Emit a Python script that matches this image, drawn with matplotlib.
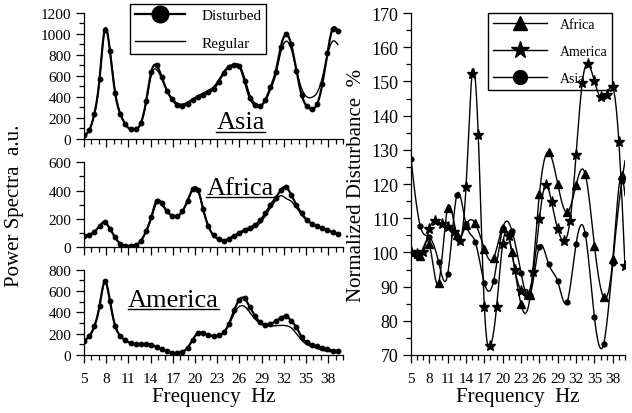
import numpy as np
import matplotlib
matplotlib.use('Agg')
import matplotlib.pyplot as plt
from matplotlib.lines import Line2D
from matplotlib.ticker import MultipleLocator, FixedLocator

# ---- left panel: power spectra (sampled every 0.7 Hz) ----
freq = [5.0, 5.7, 6.4, 7.1, 7.8, 8.5, 9.2, 9.9, 10.6, 11.3,
        12.0, 12.7, 13.4, 14.1, 14.8, 15.5, 16.2, 16.9, 17.6, 18.3,
        19.0, 19.7, 20.4, 21.1, 21.8, 22.5, 23.2, 23.9, 24.6, 25.3,
        26.0, 26.7, 27.4, 28.1, 28.8, 29.5, 30.2, 30.9, 31.6, 32.3,
        33.0, 33.7, 34.4, 35.1, 35.8, 36.5, 37.2, 37.9, 38.6, 39.3]

asia_dist = [32, 80, 238, 570, 1040, 840, 440, 238, 137, 89,
             89, 152, 360, 640, 700, 590, 460, 375, 320, 308,
             335, 368, 395, 420, 443, 475, 545, 630, 680, 705,
             690, 550, 390, 320, 310, 370, 490, 640, 880, 995,
             900, 650, 420, 310, 285, 330, 520, 820, 1050, 1030]
asia_reg = [30, 80, 235, 565, 1040, 840, 445, 240, 138, 92,
            92, 150, 345, 610, 660, 575, 465, 385, 340, 330,
            350, 380, 410, 435, 460, 495, 560, 640, 695, 710,
            700, 580, 420, 340, 320, 360, 470, 610, 830, 930,
            860, 660, 480, 400, 395, 440, 580, 800, 930, 900]

africa_dist = [82, 88, 110, 150, 178, 130, 70, 25, 12, 11,
               16, 47, 115, 215, 328, 310, 255, 224, 220, 255,
               330, 412, 405, 270, 150, 85, 57, 48, 62, 82,
               104, 122, 138, 158, 190, 240, 300, 350, 405, 425,
               370, 300, 240, 195, 168, 150, 135, 120, 105, 92]
africa_reg = [82, 88, 110, 150, 175, 130, 70, 25, 12, 11,
              16, 47, 112, 205, 310, 300, 252, 222, 220, 255,
              330, 410, 405, 270, 150, 85, 57, 48, 60, 75,
              95, 112, 125, 143, 172, 222, 280, 330, 365, 345,
              325, 280, 230, 190, 165, 150, 135, 120, 105, 92]

america_dist = [132, 175, 270, 460, 690, 510, 275, 180, 136, 113,
                103, 102, 103, 98, 74, 52, 33, 20, 19, 30,
                68, 145, 205, 207, 190, 177, 183, 215, 295, 420,
                520, 530, 450, 370, 305, 285, 290, 318, 348, 365,
                320, 260, 170, 120, 98, 82, 65, 52, 42, 37]
america_reg = [132, 175, 270, 460, 680, 505, 275, 180, 136, 113,
               103, 102, 103, 98, 74, 52, 33, 20, 19, 30,
               68, 145, 200, 202, 186, 175, 180, 210, 285, 390,
               455, 455, 400, 340, 295, 275, 272, 275, 278, 275,
               255, 200, 140, 100, 80, 62, 45, 35, 28, 24]

# ---- right panel: normalized disturbance % ----
# Africa / Asia markers every 1.5 Hz, last value is where the curve ends (40 Hz)
tri_freq = [5, 6.5, 8, 9.5, 11, 12.5, 14, 15.5, 17, 18.5, 20, 21.5,
            23, 24.5, 26, 27.5, 29, 30.5, 32, 33.5, 35, 36.5, 38, 39.5, 40]
africa_pct = [100, 99, 102.4, 91, 113, 105, 108, 108.5, 101, 98.3, 107, 100,
              84.8, 87.4, 117, 129.3, 120, 111.7, 119.7, 122.9, 102, 86.9, 98, 122.5, 116.6]
asia_pct = [127.3, 107.8, 104.5, 97.3, 93.6, 116.8, 108.2, 103.1, 91.0, 91.6, 107.0, 106.4,
            94.0, 87.6, 101.7, 96.6, 91.5, 85.4, 102.5, 105.4, 81.0, 73.2, 97, 121, 126.8]
# America markers every 1 Hz
star_freq = [5, 6, 7, 8, 9, 10, 11, 12, 13, 14, 15, 16, 17, 18, 19, 20, 21, 22,
             23, 24, 25, 26, 27, 28, 29, 30, 31, 32, 33, 34, 35, 36, 37, 38, 39, 40]
america_pct = [100.2, 99.5, 100.2, 106.8, 109.3, 108.3, 107.3, 105.9, 103.4, 119.2,
               152.2, 134.3, 84.0, 72.6, 84.0, 102.5, 104.7, 94.8, 88.8, 87.5,
               94.2, 109.8, 119.7, 114.6, 106.8, 103.4, 109.1, 128.5, 149.5, 155.1,
               150.0, 145.3, 146.0, 148.3, 132.2, 95.9]


def spline_line(x, y, n=600):
    # natural cubic spline, used only for drawing the smooth connecting line
    x = np.asarray(x, float)
    y = np.asarray(y, float)
    h = np.diff(x)
    N = len(x)
    A = np.zeros((N, N))
    r = np.zeros(N)
    A[0, 0] = A[-1, -1] = 1
    for i in range(1, N - 1):
        A[i, i - 1] = h[i - 1]
        A[i, i] = 2 * (h[i - 1] + h[i])
        A[i, i + 1] = h[i]
        r[i] = 3 * ((y[i + 1] - y[i]) / h[i] - (y[i] - y[i - 1]) / h[i - 1])
    c = np.linalg.solve(A, r)
    b = (y[1:] - y[:-1]) / h - h * (2 * c[:-1] + c[1:]) / 3
    d = (c[1:] - c[:-1]) / (3 * h)
    xs = np.linspace(x[0], x[-1], n)
    idx = np.clip(np.searchsorted(x, xs) - 1, 0, N - 2)
    t = xs - x[idx]
    return xs, y[idx] + b[idx] * t + c[idx] * t ** 2 + d[idx] * t ** 3


plt.rcParams['font.family'] = ['Liberation Serif', 'DejaVu Serif']
plt.rcParams['axes.linewidth'] = 0.9

W, H = 632, 414


def box(x0, y0, x1, y1):
    return [x0 / W, 1 - y1 / H, (x1 - x0) / W, (y1 - y0) / H]


fig = plt.figure(figsize=(6.32, 4.14), dpi=100)
ax_asia = fig.add_axes(box(84, 14, 343, 139.7))
ax_afr = fig.add_axes(box(84, 163.3, 343, 248.3))
ax_am = fig.add_axes(box(84, 270.7, 343, 356))
ax_r = fig.add_axes(box(411, 14, 625, 356))

xticks = [5, 8, 11, 14, 17, 20, 23, 26, 29, 32, 35, 38]


def style(ax, ymax, ystep, fs=11, labels=True):
    for s in ['top', 'right']:
        ax.spines[s].set_visible(False)
    ax.set_xlim(5, 40)
    ax.set_ylim(ax.get_ylim()[0], ymax)
    ax.xaxis.set_major_locator(FixedLocator(xticks))
    ax.xaxis.set_minor_locator(MultipleLocator(1))
    ax.yaxis.set_major_locator(MultipleLocator(ystep))
    ax.yaxis.set_minor_locator(MultipleLocator(ystep / 2))
    ax.tick_params(which='major', direction='out', length=6, width=0.9, labelsize=11, pad=3)
    ax.tick_params(which='minor', direction='out', length=3.5, width=0.9)
    ax.tick_params(axis='x', which='major', pad=6)
    ax.tick_params(axis='y', labelsize=fs)
    if not labels:
        ax.tick_params(axis='x', labelbottom=False)


panels = [(ax_asia, asia_dist, asia_reg, 1200, 'Asia', (0.604, 0.13)),
          (ax_afr, africa_dist, africa_reg, 600, 'Africa', (0.602, 0.70)),
          (ax_am, america_dist, america_reg, 800, 'America', (0.346, 0.65))]

name_texts = []
for ax, dist, reg, ymax, name, pos in panels:
    xs, ys = spline_line(freq, reg)
    ax.plot(xs, ys, color='k', lw=1.0)
    xs, ys = spline_line(freq, dist)
    ax.plot(xs, ys, color='k', lw=1.6)
    ax.plot(freq, dist, 'o', color='k', ms=3.2)
    ax.set_ylim(0, ymax)
    style(ax, ymax, 200, labels=(ax is ax_am))
    t = ax.text(pos[0], pos[1], name, transform=ax.transAxes, ha='center', va='center',
                fontsize=19)
    name_texts.append(t)

ax_am.set_xlabel('Frequency  Hz', fontsize=15, labelpad=2)
fig.text(15 / W, 0.502, 'Power Spectra  a.u.', rotation=90, ha='center', va='center',
         fontsize=15)

leg_left = [Line2D([], [], color='k', lw=1.6, marker='o', ms=12),
            Line2D([], [], color='k', lw=1.0)]
ax_asia.legend(leg_left, ['Disturbed', 'Regular'], loc='upper left',
               bbox_to_anchor=(0.178, 1.072), fontsize=11, frameon=True, fancybox=False,
               edgecolor='k', framealpha=1, handlelength=3.3, handletextpad=1.1,
               borderpad=0.3, labelspacing=0.9, borderaxespad=0)

# right panel
for fx, vals, mk, ms, mark_all in [(tri_freq, africa_pct, '^', 6, False),
                                   (star_freq, america_pct, '*', 8, True),
                                   (tri_freq, asia_pct, 'o', 3.5, False)]:
    xs, ys = spline_line(fx, vals)
    ax_r.plot(xs, ys, color='k', lw=1.0, zorder=3)
    if mark_all:
        ax_r.plot(fx, vals, mk, color='k', ms=ms, zorder=3)
    else:
        ax_r.plot(fx[:-1], vals[:-1], mk, color='k', ms=ms, zorder=3)

ax_r.set_ylim(70, 170)
style(ax_r, 170, 10, fs=13)
ax_r.set_xlabel('Frequency  Hz', fontsize=15, labelpad=2)
ax_r.set_ylabel('Normalized Disturbance  %', fontsize=15, labelpad=4)

leg_right = [Line2D([], [], color='k', lw=1.0, marker='^', ms=10),
             Line2D([], [], color='k', lw=1.0, marker='*', ms=13),
             Line2D([], [], color='k', lw=1.0, marker='o', ms=10)]
leg = ax_r.legend(leg_right, ['Africa', 'America', 'Asia'], loc='upper right',
                  bbox_to_anchor=(0.94, 1.0), fontsize=10, frameon=True, fancybox=False,
                  edgecolor='k', framealpha=1, handlelength=3.9, handletextpad=0.9,
                  borderpad=0.35, labelspacing=1.0, borderaxespad=0)
leg.set_zorder(2)  # data drawn over the legend box, as in the original

# underline the region names just below the baseline
fig.canvas.draw()
for t in name_texts:
    bb = t.get_window_extent()
    yline = (bb.y0 + 1.5) / H
    fig.add_artist(Line2D([bb.x0 / W, bb.x1 / W], [yline, yline], color='k', lw=1.0))

fig.savefig('out.png', dpi=100)
